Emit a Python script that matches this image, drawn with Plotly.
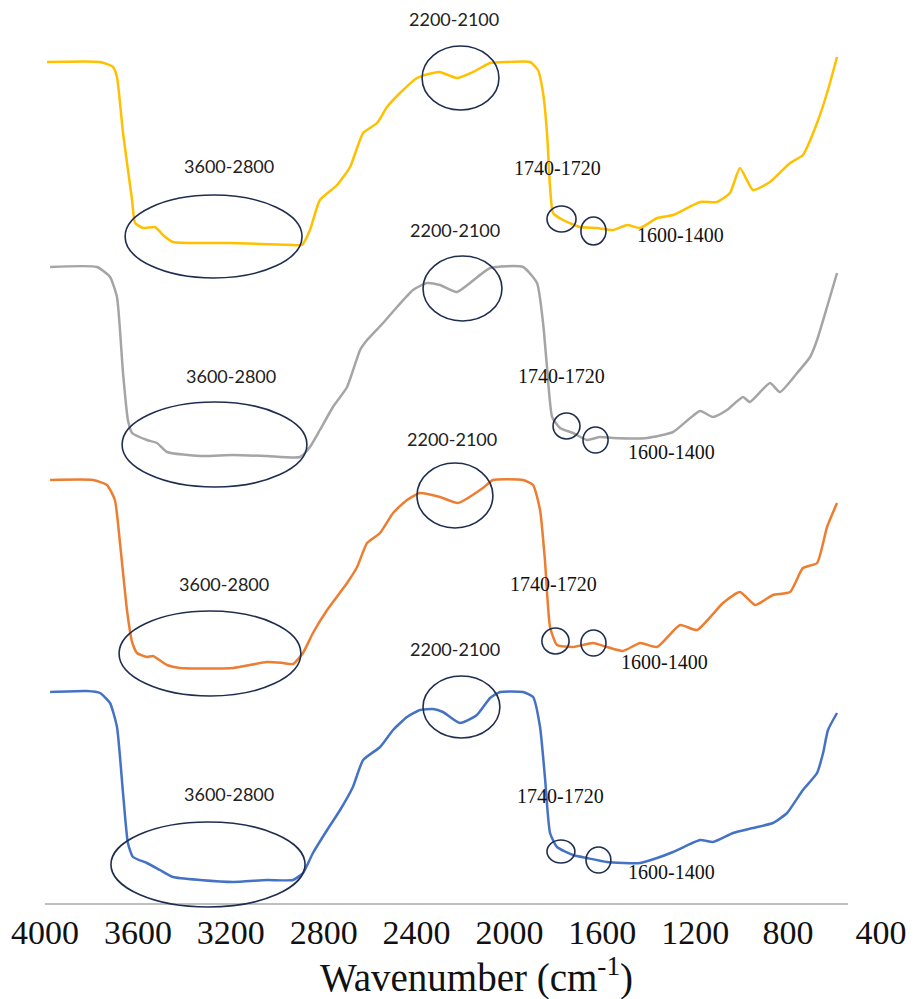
import plotly.graph_objects as go

# Wavenumber (cm-1) and transmittance (a.u., stacked)
yellow_wn = [3991, 3763, 3707, 3690, 3664, 3625, 3612, 3578, 3526, 3492, 3449, 3203, 2932, 2893, 2859, 2816,
             2742, 2686, 2630, 2570, 2527, 2471, 2398, 2329, 2299, 2226, 2157, 2083, 2010, 1911, 1877, 1855,
             1838, 1825, 1812, 1769, 1696, 1623, 1554, 1493, 1437, 1364, 1295, 1179, 1106, 1050, 1007, 951,
             878, 791, 736, 675, 628, 589]
yellow_t = [84.2, 84.2, 83.7, 82.7, 77.1, 70.4, 68.1, 67.6, 67.7, 66.9, 66.2, 66.1, 65.9, 65.9, 67.4, 70.4,
            71.9, 73.7, 77.1, 78.1, 79.7, 81.1, 82.6, 83.1, 83.2, 82.6, 83.2, 84.1, 84.2, 84.2, 83.4, 81.1,
            77.1, 71.7, 69.1, 68.4, 67.7, 67.6, 67.4, 67.9, 67.6, 68.6, 68.9, 70.2, 70.2, 71.1, 73.6, 71.4,
            72.2, 74.1, 74.9, 78.1, 81.4, 84.7]

gray_wn = [3978, 3776, 3720, 3690, 3664, 3643, 3625, 3561, 3518, 3475, 3332, 3190, 3044, 2902, 2859, 2816,
           2760, 2699, 2643, 2613, 2544, 2484, 2415, 2355, 2299, 2226, 2083, 1941, 1881, 1855, 1838, 1816,
           1782, 1726, 1666, 1610, 1554, 1407, 1295, 1179, 1123, 1063, 994, 964, 878, 835, 761, 705, 675,
           632, 589]
gray_t = [63.7, 63.7, 62.7, 60.7, 53.1, 48.4, 47.1, 46.4, 46.1, 45.2, 44.8, 44.9, 44.8, 44.7, 45.7, 47.4,
          49.7, 51.7, 55.4, 56.4, 58.1, 59.7, 61.4, 62.1, 61.9, 61.2, 63.6, 63.7, 62.1, 58.1, 53.7, 48.7,
          47.6, 47.1, 46.4, 46.7, 46.6, 46.6, 47.2, 49.3, 48.7, 49.4, 50.7, 50.2, 52.1, 51.2, 53.1, 54.7, 56.4,
          59.7, 63.1]

orange_wn = [3978, 3793, 3733, 3699, 3677, 3647, 3625, 3604, 3561, 3535, 3475, 3419, 3190, 3044, 2975, 2932,
             2889, 2846, 2785, 2699, 2656, 2613, 2557, 2501, 2441, 2385, 2299, 2221, 2114, 2071, 1941, 1898,
             1868, 1847, 1825, 1795, 1726, 1640, 1580, 1511, 1437, 1364, 1265, 1192, 1080, 1007, 942, 865,
             791, 736, 675, 632, 589]
orange_t = [42.4, 42.4, 41.9, 40.4, 36.1, 29.4, 26.2, 25.1, 24.7, 24.8, 23.9, 23.6, 23.6, 24.2, 24.1, 24.0,
            25.1, 27.1, 29.4, 32.1, 33.7, 36.1, 37.1, 39.1, 40.4, 41.1, 40.7, 40.1, 41.6, 42.4, 42.4, 41.9,
            39.4, 34.4, 27.7, 25.9, 25.7, 26.1, 25.7, 25.3, 26.1, 25.7, 27.9, 27.4, 30.1, 31.2, 29.9, 30.9,
            31.2, 33.6, 34.1, 37.7, 40.1]

blue_wn = [3978, 3819, 3763, 3720, 3690, 3664, 3643, 3621, 3561, 3505, 3449, 3332, 3190, 3044, 2932, 2889,
           2846, 2785, 2729, 2674, 2630, 2557, 2501, 2441, 2385, 2329, 2286, 2213, 2140, 2083, 2040, 1941,
           1898, 1868, 1847, 1825, 1795, 1726, 1666, 1580, 1437, 1364, 1295, 1179, 1123, 1037, 951, 865,
           804, 736, 675, 649, 628, 589]
blue_t = [21.2, 21.3, 21.1, 20.1, 17.7, 11.1, 6.1, 4.7, 4.1, 3.4, 2.7, 2.4, 2.2, 2.4, 2.4, 3.1,
          5.1, 7.4, 9.4, 11.7, 14.4, 15.7, 17.4, 18.7, 19.4, 19.5, 19.2, 18.1, 18.9, 20.6, 21.2, 21.2,
          20.7, 17.7, 12.7, 7.1, 5.7, 4.9, 4.6, 4.2, 4.1, 4.6, 5.2, 6.4, 6.2, 7.1, 7.6, 8.1,
          9.1, 11.4, 13.1, 15.1, 17.4, 19.1]

tick_vals = [4000, 3600, 3200, 2800, 2400, 2000, 1600, 1200, 800, 400]
tick_text = ["4000", "3600", "3200", "2800", "2400", "2000", "1600", "1200", "800", "400"]

band_labels = ["3600-2800", "2200-2100", "1740-1720", "1600-1400"]
x_title = "Wavenumber (cm<sup>-1</sup>)"

series = [
    (yellow_wn, yellow_t, "#FFC000"),
    (gray_wn, gray_t, "#A5A5A5"),
    (orange_wn, orange_t, "#ED7D31"),
    (blue_wn, blue_t, "#4472C4"),
]

# Ellipse boxes per spectrum (x0, x1 in cm-1; y0, y1 in a.u.) for the four bands
ellipses = [
    [(3655, 2893, 62.6, 70.9), (2376, 2045, 79.4, 85.8), (1838, 1713, 67.2, 69.8), (1692, 1584, 65.9, 68.7)],
    [(3668, 2872, 41.7, 50.2), (2372, 2032, 58.3, 64.8), (1812, 1696, 46.5, 49.1), (1683, 1575, 45.1, 47.7)],
    [(3681, 2898, 20.8, 29.3), (2398, 2071, 37.6, 44.1), (1860, 1743, 25.0, 27.6), (1692, 1584, 24.8, 27.4)],
    [(3716, 2880, -0.3, 8.2), (2372, 2041, 16.6, 22.8), (1838, 1718, 4.1, 6.4), (1670, 1563, 3.1, 5.7)],
]
# Label anchor positions per spectrum (x in cm-1, y in a.u.)
label_pos = [
    [(3208, 73.8), (2240, 88.5), (1795, 73.6), (1265, 66.9)],
    [(3199, 52.8), (2234, 67.4), (1774, 52.8), (1300, 45.2)],
    [(3229, 32.0), (2247, 46.5), (1812, 32.0), (1330, 24.2)],
    [(3208, 11.0), (2234, 25.5), (1782, 10.8), (1304, 3.2)],
]

fig = go.Figure()
for wn, t, col in series:
    fig.add_trace(go.Scatter(x=wn, y=t, mode="lines",
                             line=dict(color=col, width=2.5, shape="spline", smoothing=0.5),
                             showlegend=False, hoverinfo="skip"))

shapes = []
for ell in ellipses:
    for (x0, x1, y0, y1) in ell:
        shapes.append(dict(type="circle", xref="x", yref="y", x0=x0, x1=x1, y0=y0, y1=y1,
                           line=dict(color="#1F2D4F", width=1.6), layer="above"))
# baseline axis line
shapes.append(dict(type="line", xref="x", yref="y", x0=4000, x1=542, y0=0, y1=0,
                   line=dict(color="#BFBFBF", width=2), layer="below"))

serif = "Liberation Serif, Times New Roman, serif"
annotations = []
for pos in label_pos:
    for i, (lx, ly) in enumerate(pos):
        if i < 2:
            font = dict(family="Lato, Open Sans, sans-serif", size=18, color="#222222")
        else:
            font = dict(family=serif, size=20, color="#111111")
        annotations.append(dict(x=lx, y=ly, xref="x", yref="y", text=band_labels[i], showarrow=False,
                                xanchor="center", yanchor="middle", font=font))
# axis title
annotations.append(dict(x=0.521, y=-0.073, xref="paper", yref="paper", text=x_title, showarrow=False,
                        xanchor="center", yanchor="middle",
                        font=dict(family=serif, size=39, color="#111111")))

fig.update_layout(
    width=915, height=999,
    margin=dict(l=0, r=0, t=0, b=90),
    paper_bgcolor="white", plot_bgcolor="white",
    shapes=shapes, annotations=annotations,
    xaxis=dict(range=[4193.8, 253.2], tickvals=tick_vals, ticktext=tick_text,
               showgrid=False, zeroline=False, showline=False, ticks="",
               tickfont=dict(family=serif, size=34, color="#111111")),
    yaxis=dict(range=[-0.5, 90.4], visible=False, showgrid=False, zeroline=False),
)

fig.write_html("out.html")
